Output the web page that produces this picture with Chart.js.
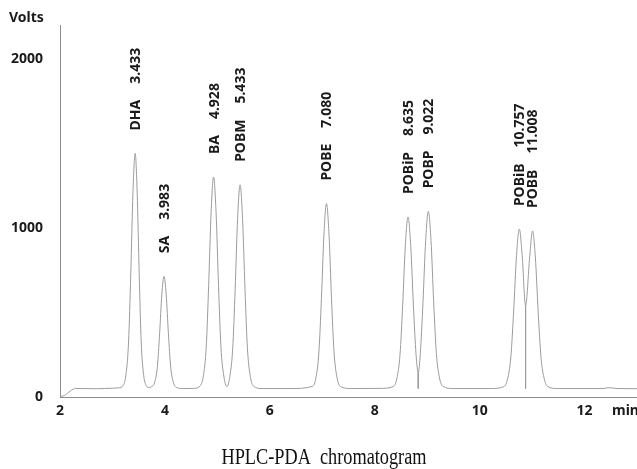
<!DOCTYPE html>
<html>
<head>
<meta charset="utf-8">
<script src="https://cdn.jsdelivr.net/npm/chart.js@4"></script>
<style>
  html, body { margin: 0; padding: 0; background: #ffffff; }
  #wrap { width: 637px; height: 469px; }
</style>
</head>
<body>
<div id="wrap"><canvas id="c" width="637" height="469"></canvas></div>
<script>
// ---- data ----
const peakNames = ["DHA", "SA", "BA", "POBM", "POBE", "POBiP", "POBP", "POBiB", "POBB"];
const retentionTimes = [3.433, 3.983, 4.928, 5.433, 7.080, 8.635, 9.022, 10.757, 11.008];
const peakVolts = [1442, 715, 1302, 1256, 1145, 1066, 1099, 994, 983];

const traceTime = [
  2.00, 2.08, 2.20, 2.30, 2.40, 2.70, 3.00, 3.12,
  3.202, 3.258, 3.307, 3.349, 3.391, 3.433, 3.471, 3.510, 3.548, 3.593, 3.644,
  3.69,
  3.752, 3.808, 3.857, 3.899, 3.941, 3.983, 4.025, 4.067, 4.109, 4.158, 4.214,
  4.35, 4.55,
  4.671, 4.733, 4.788, 4.834, 4.881, 4.928, 4.975, 5.022, 5.068, 5.123,
  5.181,
  5.238, 5.293, 5.339, 5.386, 5.433, 5.480, 5.527, 5.573, 5.628, 5.690,
  5.85, 6.40,
  6.816, 6.880, 6.936, 6.984, 7.032, 7.080, 7.128, 7.176, 7.224, 7.280, 7.344,
  7.55, 8.10,
  8.355, 8.423, 8.482, 8.533, 8.584, 8.635, 8.686, 8.737, 8.788,
  8.829,
  8.869, 8.920, 8.971, 9.022, 9.073, 9.124, 9.175, 9.235, 9.302,
  9.50, 10.20,
  10.460, 10.532, 10.595, 10.649, 10.703, 10.757, 10.811,
  10.876,
  10.954, 11.008, 11.062, 11.116, 11.170, 11.233, 11.300,
  11.50, 12.35, 12.45, 12.52, 12.62, 13.00
];
const traceVolts = [
  3, 8, 36, 51, 50, 49, 52, 54,
  67, 134, 326, 728, 1212, 1442, 1212, 728, 326, 134, 67,
  57,
  62, 90, 182, 374, 605, 715, 605, 374, 182, 90, 58,
  50, 51,
  65, 125, 298, 660, 1095, 1302, 1095, 660, 298, 125,
  62,
  122, 289, 637, 1057, 1256, 1057, 637, 289, 122, 64,
  50, 50,
  63, 116, 267, 583, 964, 1145, 964, 583, 267, 116, 63,
  50, 51,
  62, 111, 251, 545, 898, 1066, 898, 545, 251,
  144,
  258, 561, 926, 1099, 926, 561, 258, 113, 63,
  50, 50,
  61, 107, 237, 510, 838, 994, 838,
  540,
  829, 983, 829, 504, 235, 106, 61,
  50, 50, 55, 54, 50, 49
];

// valley drop lines (time, top volts, baseline volts)
const dropTimes = [8.829, 10.876];
const dropTopVolts = [144, 540];
const dropBaseVolts = [50, 50];

const xTickValues = [2, 4, 6, 8, 10, 12];
const yTickValues = [0, 1000, 2000];
const yAxisTitle = "Volts";
const xAxisTitle = "min";
const chartTitle = "HPLC-PDA  chromatogram";

// ---- build chart ----
const traceColor = "#9c9c9c";
const textColor = "#1a1a1a";
const labelFont = "bold 14px 'Noto Sans', 'DejaVu Sans', sans-serif";

const datasets = [{
  data: traceTime.map((t, i) => ({ x: t, y: traceVolts[i] })),
  borderColor: traceColor,
  borderWidth: 1,
  pointRadius: 0,
  fill: false,
  cubicInterpolationMode: "monotone"
}];
dropTimes.forEach((t, i) => {
  datasets.push({
    data: [{ x: t, y: dropTopVolts[i] }, { x: t, y: dropBaseVolts[i] }],
    borderColor: traceColor,
    borderWidth: 1,
    pointRadius: 0,
    fill: false
  });
});

const annotationPlugin = {
  id: "annot",
  afterDraw(chart) {
    const ctx = chart.ctx;
    const xs = chart.scales.x, ys = chart.scales.y;
    ctx.save();
    ctx.fillStyle = textColor;
    ctx.font = labelFont;
    // peak labels (rotated)
    peakNames.forEach((name, i) => {
      const x = xs.getPixelForValue(retentionTimes[i]) + 1;
      const y = ys.getPixelForValue(peakVolts[i]) - 23;
      ctx.save();
      ctx.translate(x, y);
      ctx.rotate(-Math.PI / 2);
      ctx.textAlign = "left";
      ctx.textBaseline = "middle";
      ctx.fillText(name, 0, 0);
      const w = ctx.measureText(name).width;
      ctx.fillText(retentionTimes[i].toFixed(3), w + 16, 0);
      ctx.restore();
    });
    // axis titles
    ctx.textAlign = "left";
    ctx.textBaseline = "middle";
    ctx.fillText(yAxisTitle, 9, 18);
    ctx.fillText(xAxisTitle, 612, 411.5);
    // chart title (condensed serif)
    ctx.font = "24px 'Liberation Serif', 'DejaVu Serif', serif";
    const tw = ctx.measureText(chartTitle).width;
    const sx = 205 / tw;
    ctx.translate(324, 464);
    ctx.scale(sx, 1);
    ctx.textAlign = "center";
    ctx.textBaseline = "alphabetic";
    ctx.fillStyle = "#111";
    ctx.fillText(chartTitle, 0, 0);
    ctx.restore();
  }
};

new Chart(document.getElementById("c"), {
  type: "line",
  data: { datasets },
  options: {
    responsive: false,
    animation: false,
    devicePixelRatio: 1,
    layout: { padding: { top: 17, left: 0, right: 0, bottom: 0 } },
    plugins: { legend: { display: false }, tooltip: { enabled: false }, title: { display: false } },
    scales: {
      x: {
        type: "linear",
        min: 2,
        max: 13,
        afterBuildTicks(s) { s.ticks = xTickValues.map(v => ({ value: v })); },
        afterFit(s) { s.height = 72; },
        ticks: {
          font: { family: "'Noto Sans', 'DejaVu Sans', sans-serif", size: 14, weight: "bold" },
          color: textColor,
          padding: 6,
          maxRotation: 0,
          autoSkip: false,
          callback: (v) => String(v)
        },
        grid: { display: false, drawTicks: false },
        border: { display: true, color: "#8c8c8c", width: 1 }
      },
      y: {
        type: "linear",
        min: 0,
        max: 2200,
        afterBuildTicks(s) { s.ticks = yTickValues.map(v => ({ value: v })); },
        afterFit(s) { s.width = 60; },
        ticks: {
          font: { family: "'Noto Sans', 'DejaVu Sans', sans-serif", size: 14, weight: "bold" },
          color: textColor,
          padding: 17,
          callback: (v) => String(v)
        },
        grid: { display: false, drawTicks: false },
        border: { display: true, color: "#8c8c8c", width: 1 }
      }
    }
  },
  plugins: [annotationPlugin]
});
</script>
</body>
</html>
